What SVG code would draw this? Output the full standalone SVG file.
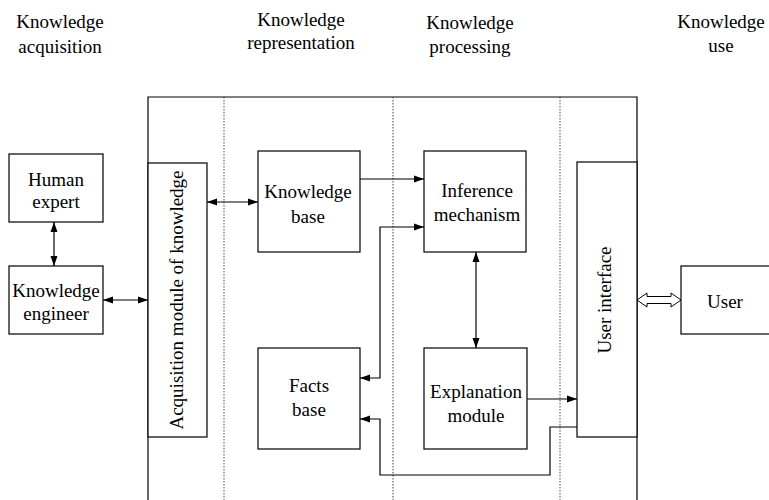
<svg xmlns="http://www.w3.org/2000/svg" width="769" height="500" viewBox="0 0 769 500">
<style>
text{font-size:19px;fill:#000;text-anchor:middle}
.box{fill:#fff;stroke:#000;stroke-width:1.2}
.frame{fill:none;stroke:#000;stroke-width:1.2}
.dot{stroke:#444;stroke-width:1;stroke-dasharray:1.5 1.5;fill:none}
.c{fill:none;stroke:#000;stroke-width:1.2}
</style>
<defs>
<marker id="ah" markerUnits="userSpaceOnUse" markerWidth="11" markerHeight="8" refX="10" refY="4" orient="auto-start-reverse" viewBox="0 0 11 8">
<path d="M0,0.5 L10,4 L0,7.5 z" fill="#000"/>
</marker>
</defs>
<rect width="769" height="500" fill="#fff"/>
<g font-family="Liberation Serif, Times New Roman, Times, Nimbus Roman, Noto Serif, FreeSerif, DejaVu Serif, serif">
<g id="labels">
<text x="60" y="28">Knowledge</text>
<text x="60" y="53">acquisition</text>
<text x="301" y="26">Knowledge</text>
<text x="301" y="49">representation</text>
<text x="470" y="29">Knowledge</text>
<text x="470" y="53">processing</text>
<text x="721" y="28">Knowledge</text>
<text x="721" y="52">use</text>
</g>
<g id="frame">
<path class="frame" d="M148,500 V97 H637 V500"/>
<line class="dot" x1="224" y1="97" x2="224" y2="500"/>
<line class="dot" x1="393" y1="97" x2="393" y2="500"/>
<line class="dot" x1="560" y1="97" x2="560" y2="500"/>
</g>
<g id="human-expert"><rect class="box" x="9" y="154" width="94" height="68"/><text x="56" y="186">Human</text><text x="56" y="208">expert</text></g>
<g id="knowledge-engineer"><rect class="box" x="9" y="266" width="94" height="68"/><text x="56" y="297">Knowledge</text><text x="56" y="320">engineer</text></g>
<g id="acquisition-module"><rect class="box" x="148" y="163" width="59" height="274"/><text transform="translate(183,300) rotate(-90)">Acquisition module of knowledge</text></g>
<g id="knowledge-base"><rect class="box" x="258" y="151" width="102" height="101"/><text x="308" y="198">Knowledge</text><text x="308" y="223">base</text></g>
<g id="inference-mechanism"><rect class="box" x="424" y="151" width="102" height="101"/><text x="477" y="197">Inference</text><text x="477" y="221">mechanism</text></g>
<g id="facts-base"><rect class="box" x="258" y="348" width="102" height="101"/><text x="309" y="392">Facts</text><text x="309" y="416">base</text></g>
<g id="explanation-module"><rect class="box" x="424" y="348" width="103" height="101"/><text x="476" y="398">Explanation</text><text x="476" y="422">module</text></g>
<g id="user-interface"><rect class="box" x="577" y="162" width="60" height="275"/><text transform="translate(611,300) rotate(-90)">User interface</text></g>
<g id="user"><rect class="box" x="681" y="266" width="100" height="68"/><text x="725" y="308">User</text></g>
<g id="connectors">
<line class="c" x1="54" y1="222" x2="54" y2="266" marker-start="url(#ah)" marker-end="url(#ah)"/>
<line class="c" x1="103" y1="300" x2="148" y2="300" marker-start="url(#ah)" marker-end="url(#ah)"/>
<line class="c" x1="207" y1="202" x2="258" y2="202" marker-start="url(#ah)" marker-end="url(#ah)"/>
<line class="c" x1="360" y1="179" x2="424" y2="179" marker-end="url(#ah)"/>
<polyline class="c" points="360,378 380,378 380,227 424,227" marker-start="url(#ah)" marker-end="url(#ah)"/>
<line class="c" x1="476" y1="252" x2="476" y2="348" marker-start="url(#ah)" marker-end="url(#ah)"/>
<line class="c" x1="527" y1="399" x2="577" y2="399" marker-end="url(#ah)"/>
<polyline class="c" points="577,427 550,427 550,475 380,475 380,419 360,419" marker-end="url(#ah)"/>
<polygon fill="#fff" stroke="#000" stroke-width="1" points="637,300 647,293 647,296.5 671,296.5 671,293 681,300 671,307 671,303.5 647,303.5 647,307"/>
</g>
</g>
</svg>
